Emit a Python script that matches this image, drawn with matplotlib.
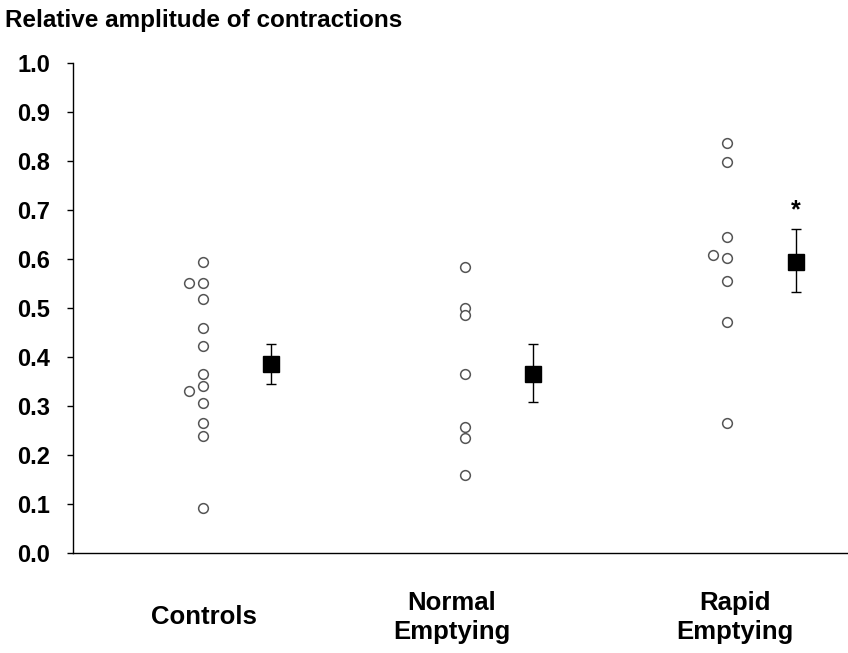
import matplotlib
matplotlib.use("Agg")
import matplotlib.pyplot as plt
from matplotlib.transforms import blended_transform_factory

plt.rcParams['font.family'] = ['Liberation Sans', 'DejaVu Sans']
plt.rcParams['font.weight'] = 'bold'

# individual values per group
controls = [0.594, 0.552, 0.552, 0.519, 0.459, 0.422, 0.365, 0.341, 0.331, 0.307, 0.265, 0.239, 0.091]
controls_dx = [0, -1, 0, 0, 0, 0, 0, 0, -1, 0, 0, 0, 0]
normal = [0.584, 0.501, 0.486, 0.365, 0.258, 0.235, 0.159]
normal_dx = [0, 0, 0, 0, 0, 0, 0]
rapid = [0.836, 0.797, 0.644, 0.608, 0.603, 0.556, 0.472, 0.266]
rapid_dx = [0, 0, 0, -1, 0, 0, 0, 0]

means = [0.385, 0.365, 0.594]
err_low = [0.040, 0.056, 0.061]
err_high = [0.041, 0.061, 0.067]

labels = ["Controls", "Normal\nEmptying", "Rapid\nEmptying"]
label_x = [1.005, 1.95, 3.03]

fig = plt.figure(figsize=(8.48, 6.53), dpi=100)
ax = fig.add_axes([0.086, 0.1531, 0.914, 0.7504])

groups = [(controls, controls_dx), (normal, normal_dx), (rapid, rapid_dx)]
for i, (vals, dx) in enumerate(groups):
    xs = [i + 1 + d * 0.055 for d in dx]
    ax.plot(xs, vals, linestyle='none', marker='o', markersize=7,
            markerfacecolor='white', markeredgecolor='#555555', markeredgewidth=1.1)

mx = [1.26, 2.26, 3.26]
ax.errorbar(mx, means, yerr=[err_low, err_high], fmt='s', color='black',
            markersize=11.5, ecolor='black', elinewidth=1, capsize=3.8, capthick=1)

ax.text(3.26, 0.70, "*", ha='center', va='center', fontsize=18, fontweight='bold')

ax.set_xlim(0.504, 3.46)
ax.set_ylim(0, 1.0)
ax.set_yticks([i / 10 for i in range(11)])
ax.set_yticklabels([f"{i / 10:.1f}" for i in range(11)], fontsize=17, fontweight='bold')
ax.tick_params(axis='y', direction='out', length=4.3, width=1, pad=12)
ax.set_xticks([])

# category labels under the axis, centred vertically on one level
trans = blended_transform_factory(ax.transData, fig.transFigure)
for x, lab in zip(label_x, labels):
    ax.text(x, 1 - 617.5 / 653, lab, transform=trans, clip_on=False,
            fontsize=18.5, fontweight='bold', ha='center', va='center',
            multialignment='center', linespacing=1.25)

ax.spines['top'].set_visible(False)
ax.spines['right'].set_visible(False)
ax.spines['left'].set_linewidth(1)
ax.spines['bottom'].set_linewidth(1)

fig.text(0.006, 1 - 27 / 653, "Relative amplitude of contractions", fontsize=17.5,
         fontweight='bold', ha='left', va='baseline')

fig.savefig("out.png", dpi=100)
